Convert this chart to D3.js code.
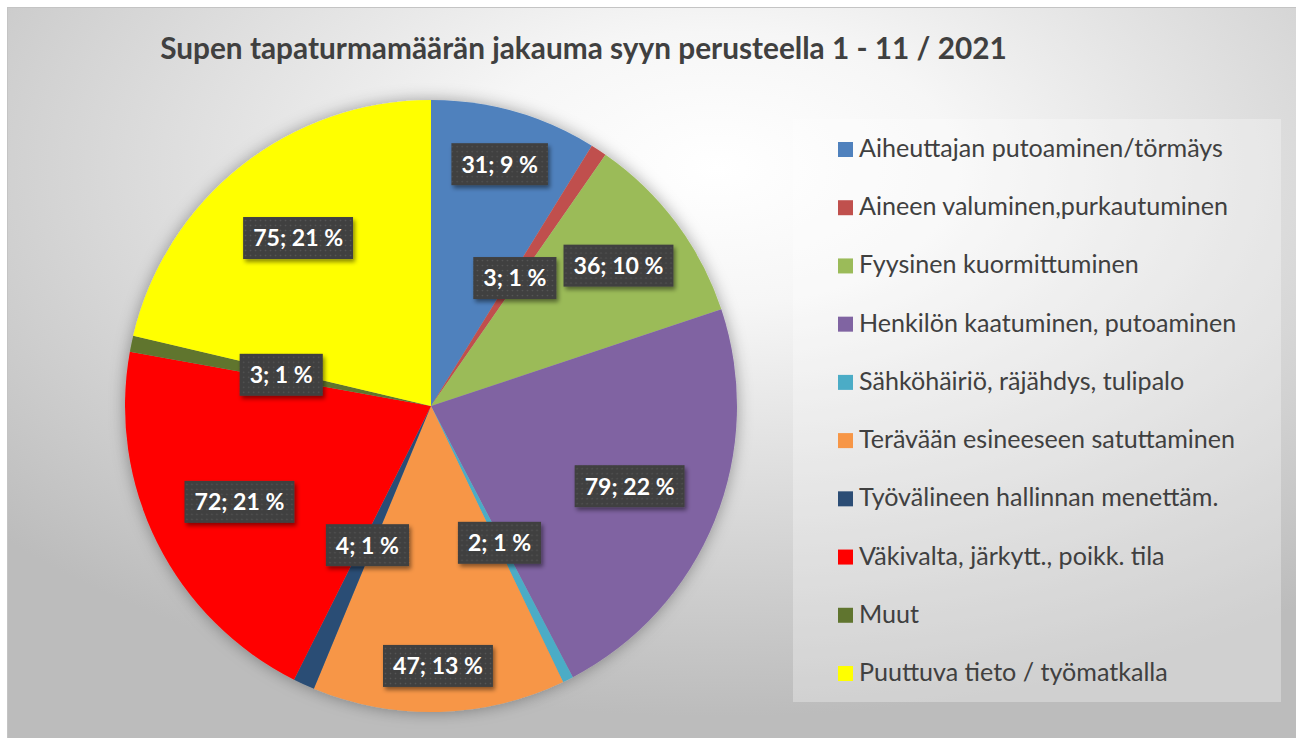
<!DOCTYPE html>
<html>
<head>
<meta charset="utf-8">
<script src="https://cdn.jsdelivr.net/npm/d3@7"></script>
<style>
  html, body { margin: 0; padding: 0; background: #ffffff; }
  svg { display: block; font-family: Lato, "Noto Sans", sans-serif; }
</style>
</head>
<body>
<svg id="chart" width="1296" height="738"></svg>
<script>
// chart data
var title = 'Supen tapaturmamäärän jakauma syyn perusteella 1 - 11 / 2021';
var categories = [
    'Aiheuttajan putoaminen/törmäys',
    'Aineen valuminen,purkautuminen',
    'Fyysinen kuormittuminen',
    'Henkilön kaatuminen, putoaminen',
    'Sähköhäiriö, räjähdys, tulipalo',
    'Terävään esineeseen satuttaminen',
    'Työvälineen hallinnan menettäm.',
    'Väkivalta, järkytt., poikk. tila',
    'Muut',
    'Puuttuva tieto / työmatkalla'
];
var values = [31, 3, 36, 79, 2, 47, 4, 72, 3, 75];
var percentLabels = ['9 %', '1 %', '10 %', '22 %', '1 %', '13 %', '1 %', '21 %', '1 %', '21 %'];
var colors = ['#4F81BD', '#C0504D', '#9BBB59', '#8064A2', '#4BACC6',
              '#F79646', '#2C4D75', '#FF0000', '#60752F', '#FFFF00'];

var svg = d3.select('#chart');
var width = 1296, height = 738;

var defs = svg.append('defs');

var bg = defs.append('radialGradient')
    .attr('id', 'bgGrad')
    .attr('cx', 0.55).attr('cy', 0.22).attr('r', 0.75)
    .attr('fx', 0.55).attr('fy', 0.22);
bg.append('stop').attr('offset', 0).attr('stop-color', '#ffffff');
bg.append('stop').attr('offset', 0.25).attr('stop-color', '#f6f6f6');
bg.append('stop').attr('offset', 1).attr('stop-color', '#bcbcbc');

var pieShadow = defs.append('filter').attr('id', 'pieShadow')
    .attr('x', '-20%').attr('y', '-20%').attr('width', '140%').attr('height', '140%');
pieShadow.append('feDropShadow')
    .attr('dx', 0).attr('dy', 0).attr('stdDeviation', 8)
    .attr('flood-color', '#000').attr('flood-opacity', 0.35);

var boxShadow = defs.append('filter').attr('id', 'boxShadow')
    .attr('x', '-20%').attr('y', '-30%').attr('width', '150%').attr('height', '170%');
boxShadow.append('feDropShadow')
    .attr('dx', 2).attr('dy', 3).attr('stdDeviation', 2)
    .attr('flood-color', '#000').attr('flood-opacity', 0.45);

var dots = defs.append('pattern').attr('id', 'dots')
    .attr('patternUnits', 'userSpaceOnUse').attr('width', 5).attr('height', 5);
dots.append('rect').attr('width', 5).attr('height', 5).attr('fill', '#404040');
dots.append('circle').attr('cx', 2.5).attr('cy', 2.5).attr('r', 0.8).attr('fill', '#575757');

// chart area
svg.append('rect')
    .attr('x', 7.5).attr('y', 7.5)
    .attr('width', width - 7).attr('height', height - 7)
    .attr('fill', 'url(#bgGrad)')
    .attr('stroke', '#c4c4c4').attr('stroke-width', 1);

function fitFont(sel, target) {
    var w = sel.node().getComputedTextLength();
    var size = parseFloat(sel.attr('font-size'));
    return size * target / w;
}

// title
var titleText = svg.append('text')
    .attr('x', 583.5).attr('y', 59)
    .attr('text-anchor', 'middle')
    .attr('font-size', 26).attr('font-weight', 'bold')
    .attr('fill', '#404040')
    .text(title);
titleText.attr('font-size', fitFont(titleText, 847));

// pie
var cx = 431, cy = 406, radius = 306;
var total = d3.sum(values);

var pie = d3.pie().sort(null).value(function (d) { return d; });
var arcs = pie(values);
var arc = d3.arc().innerRadius(0).outerRadius(radius);

var g = svg.append('g').attr('transform', 'translate(' + cx + ',' + cy + ')');

g.append('g').attr('filter', 'url(#pieShadow)')
    .selectAll('path')
    .data(arcs)
    .enter().append('path')
    .attr('d', arc)
    .attr('fill', function (d, i) { return colors[i]; });

// data labels (rough "best fit": small slices nearer the centre,
// big ones pushed outwards until they clear the boxes already placed)
function isSmall(d) {
    return d.value / total < 0.02;
}

function startRadius(d) {
    if (isSmall(d)) {
        return radius * 0.5;
    }
    var mid = (d.startAngle + d.endAngle) / 2;
    return radius * (0.70 + 0.75 * Math.max(0, Math.abs(Math.cos(mid)) - 0.8));
}

var probe = g.append('text')
    .attr('font-size', 22).attr('font-weight', 'bold')
    .text('79; 22 %');
var labelSize = fitFont(probe, 90);
probe.remove();

var placed = [];

function overlaps(b) {
    return placed.some(function (p) {
        return b.x0 < p.x1 + 6 && b.x1 > p.x0 - 6 && b.y0 < p.y1 + 4 && b.y1 > p.y0 - 4;
    });
}

var labels = g.selectAll('.label')
    .data(arcs)
    .enter().append('g')
    .attr('class', 'label');

labels.each(function (d, i) {
    var lg = d3.select(this);
    var t = lg.append('text')
        .attr('text-anchor', 'middle')
        .attr('dy', '0.36em')
        .attr('font-size', labelSize).attr('font-weight', 'bold')
        .attr('fill', '#ffffff')
        .text(values[i] + '; ' + percentLabels[i]);
    d.textWidth = t.node().getComputedTextLength();
    lg.insert('rect', 'text')
        .attr('x', -d.textWidth / 2 - 10).attr('y', -21)
        .attr('width', d.textWidth + 20).attr('height', 42)
        .attr('fill', 'url(#dots)')
        .attr('filter', 'url(#boxShadow)');
});

function place(d) {
    var r = startRadius(d);
    var c, box;
    for (var k = 0; k < 60; k++) {
        c = d3.arc().innerRadius(r).outerRadius(r).centroid(d);
        box = {
            x0: c[0] - d.textWidth / 2 - 10, x1: c[0] + d.textWidth / 2 + 10,
            y0: c[1] - 21, y1: c[1] + 21
        };
        if (!overlaps(box)) break;
        r += 2;
    }
    placed.push(box);
    d.labelPos = c;
}

arcs.filter(isSmall).forEach(place);
arcs.filter(function (d) { return !isSmall(d); }).forEach(place);

labels.attr('transform', function (d) {
    return 'translate(' + d.labelPos[0] + ',' + d.labelPos[1] + ')';
});

// legend
svg.append('rect')
    .attr('x', 793).attr('y', 119)
    .attr('width', 488).attr('height', 583)
    .attr('fill', '#ffffff').attr('fill-opacity', 0.3);

var legendY = d3.scalePoint()
    .domain(categories)
    .range([149.5, 673.5]);

var items = svg.selectAll('.legend-item')
    .data(categories)
    .enter().append('g')
    .attr('class', 'legend-item')
    .attr('transform', function (d) { return 'translate(838,' + legendY(d) + ')'; });

items.append('rect')
    .attr('x', 0).attr('y', -7.5)
    .attr('width', 15).attr('height', 15)
    .attr('fill', function (d, i) { return colors[i]; });

var legendTexts = items.append('text')
    .attr('x', 21).attr('y', 7.5)
    .attr('font-size', 24)
    .attr('fill', '#404040')
    .text(function (d) { return d; });

var legendSize = fitFont(d3.select(legendTexts.nodes()[0]), 364);
legendTexts.attr('font-size', legendSize);
</script>
</body>
</html>
